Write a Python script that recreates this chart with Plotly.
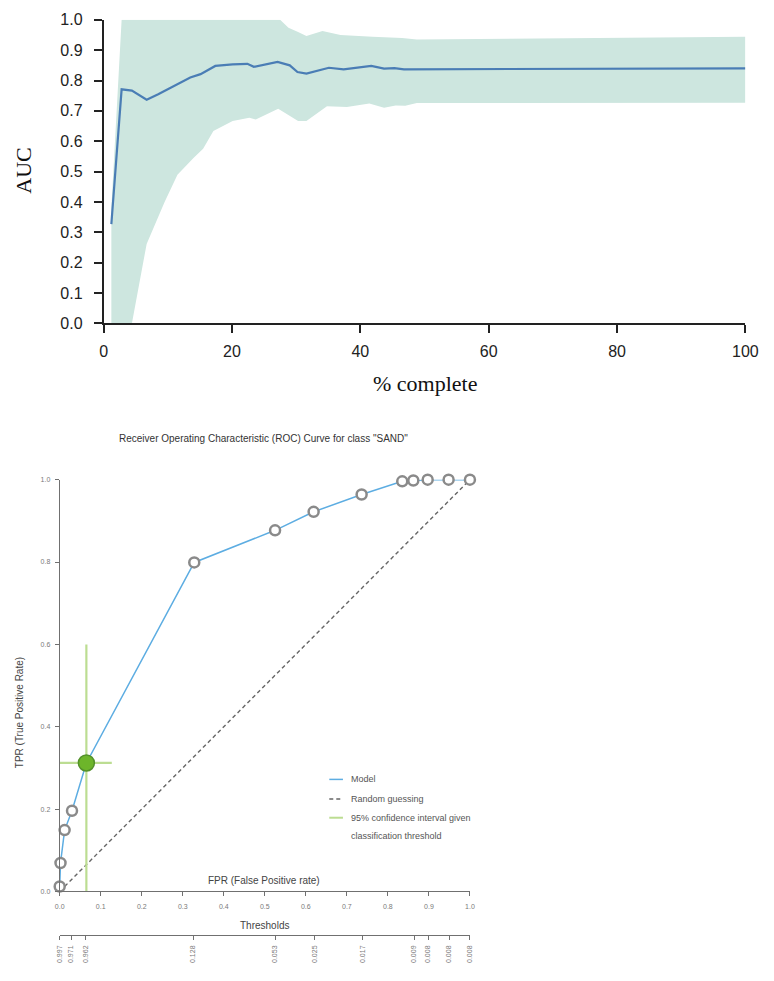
import plotly.graph_objects as go

W, H = 774, 981

# ---------------- Data: AUC learning curve ----------------
auc_x = [1.2, 2.8, 4.4, 6.7, 8.5, 11.5, 13.5, 15.1, 17.4, 20.1, 22.4, 23.4, 25.2, 27.1,
         29.0, 30.2, 31.6, 35.1, 37.4, 41.7, 43.7, 45.3, 46.8, 100.0]
auc_y = [0.327, 0.771, 0.767, 0.737, 0.755, 0.788, 0.810, 0.821, 0.848, 0.853, 0.855, 0.845,
         0.853, 0.861, 0.850, 0.828, 0.823, 0.842, 0.837, 0.848, 0.839, 0.841, 0.837, 0.840]

ci_upper_x = [1.2, 2.8, 27.5, 28.8, 30.3, 31.6, 34.1, 36.9, 41.9, 46.5, 48.8, 100.0]
ci_upper_y = [0.38, 1.0, 1.0, 0.974, 0.960, 0.947, 0.963, 0.950, 0.944, 0.940, 0.935, 0.944]

ci_lower_x = [1.2, 4.4, 6.7, 9.5, 11.5, 14.0, 15.5, 17.1, 20.1, 22.7, 23.7, 27.2, 30.3,
              31.6, 34.8, 37.9, 41.4, 43.7, 45.5, 47.0, 48.8, 100.0]
ci_lower_y = [0.0, 0.0, 0.262, 0.400, 0.490, 0.545, 0.575, 0.634, 0.667, 0.677, 0.672, 0.707,
              0.667, 0.667, 0.715, 0.713, 0.724, 0.710, 0.718, 0.717, 0.726, 0.727]

auc_xticks = [0, 20, 40, 60, 80, 100]

# ---------------- Data: ROC curve ----------------
roc_fpr = [0.0, 0.002, 0.012, 0.030, 0.065, 0.328, 0.525, 0.619, 0.736, 0.835, 0.862, 0.897, 0.948, 1.0]
roc_tpr = [0.012, 0.069, 0.149, 0.196, 0.312, 0.799, 0.877, 0.922, 0.964, 0.996, 0.998, 1.0, 1.0, 1.0]

random_fpr = [0.0, 1.0]
random_tpr = [0.0, 1.0]

sel_fpr = 0.065
sel_tpr = 0.312
ci_fpr_range = [0.0, 0.127]
ci_tpr_range = [0.0, 0.600]

thr_fpr = [0.0, 0.028, 0.063, 0.325, 0.525, 0.621, 0.738, 0.864, 0.898, 0.949, 1.0]
thr_labels = ["0.997", "0.971", "0.962", "0.128", "0.053", "0.025", "0.017",
              "0.009", "0.008", "0.008", "0.008"]

legend_labels = ["Model", "Random guessing", "95% confidence interval given", "classification threshold"]


def px(x):
    return x / W


def py(y):
    return 1 - y / H


fig = go.Figure()

# ---- top chart ----
band_x = ci_upper_x + ci_lower_x[::-1]
band_y = ci_upper_y + ci_lower_y[::-1]
fig.add_trace(go.Scatter(x=band_x, y=band_y, fill="toself", fillcolor="#cde6df",
                         mode="lines", line=dict(width=0), hoverinfo="skip",
                         showlegend=False, xaxis="x", yaxis="y"))
fig.add_trace(go.Scatter(x=auc_x, y=auc_y, mode="lines",
                         line=dict(color="#4a7db5", width=2.2),
                         showlegend=False, xaxis="x", yaxis="y"))

# ---- ROC chart ----
fig.add_trace(go.Scatter(x=random_fpr, y=random_tpr, mode="lines",
                         line=dict(color="#666666", width=1.4, dash="4px,3px"),
                         showlegend=False, xaxis="x2", yaxis="y2"))
fig.add_trace(go.Scatter(x=[sel_fpr, sel_fpr], y=ci_tpr_range, mode="lines",
                         line=dict(color="#bcdd92", width=2.2),
                         showlegend=False, xaxis="x2", yaxis="y2"))
fig.add_trace(go.Scatter(x=ci_fpr_range, y=[sel_tpr, sel_tpr], mode="lines",
                         line=dict(color="#bcdd92", width=2.2),
                         showlegend=False, xaxis="x2", yaxis="y2"))
fig.add_trace(go.Scatter(x=roc_fpr, y=roc_tpr, mode="lines+markers",
                         line=dict(color="#5dade2", width=1.5),
                         marker=dict(symbol="circle", size=10, color="white",
                                     line=dict(color="#8a8a8a", width=2.5)),
                         cliponaxis=False, showlegend=False, xaxis="x2", yaxis="y2"))
fig.add_trace(go.Scatter(x=[sel_fpr], y=[sel_tpr], mode="markers",
                         marker=dict(symbol="circle", size=16, color="#6db52a",
                                     line=dict(color="#53902a", width=1.5)),
                         cliponaxis=False, showlegend=False, xaxis="x2", yaxis="y2"))
# invisible trace carrying the threshold axis
fig.add_trace(go.Scatter(x=thr_fpr, y=[0] * len(thr_fpr), mode="markers",
                         marker=dict(opacity=0), hoverinfo="skip",
                         showlegend=False, xaxis="x3", yaxis="y2"))

top_font = dict(family="Liberation Sans, Arial, sans-serif", size=16, color="#222")
roc_tick_font = dict(family="Liberation Sans, Arial, sans-serif", size=7, color="#7a7a7a")

fig.update_layout(
    width=W, height=H,
    margin=dict(l=0, r=0, t=0, b=0),
    paper_bgcolor="white", plot_bgcolor="rgba(0,0,0,0)",
    xaxis=dict(domain=[px(101), px(758)], range=[0, 100], anchor="y",
               showline=True, linecolor="#222", linewidth=1.8,
               ticks="outside", ticklen=8, tickwidth=1.8, tickcolor="#222",
               tickvals=auc_xticks, tickfont=top_font, ticklabelstandoff=4,
               showgrid=False, zeroline=False),
    yaxis=dict(domain=[py(321), py(12)], range=[0, 1], anchor="x",
               showline=True, linecolor="#222", linewidth=1.8,
               ticks="outside", ticklen=8, tickwidth=1.8, tickcolor="#222",
               dtick=0.1, tick0=0, tickformat=".1f", tickfont=top_font,
               ticklabelstandoff=8,
               showgrid=False, zeroline=False),
    xaxis2=dict(domain=[px(56), px(476)], range=[0, 1], anchor="y2",
                showline=True, linecolor="#707070", linewidth=1,
                ticks="outside", ticklen=4, tickwidth=1, tickcolor="#707070",
                dtick=0.1, tick0=0, tickformat=".1f", tickfont=roc_tick_font,
                ticklabelstandoff=4,
                showgrid=False, zeroline=False),
    yaxis2=dict(domain=[py(899), py(480)], range=[0, 1], anchor="x2",
                showline=True, linecolor="#707070", linewidth=1,
                ticks="outside", ticklen=4, tickwidth=1, tickcolor="#707070",
                dtick=0.2, tick0=0, tickformat=".1f", tickfont=roc_tick_font,
                ticklabelstandoff=3,
                showgrid=False, zeroline=False),
    xaxis3=dict(overlaying="x2", anchor="free", position=py(943), range=[0, 1],
                showline=True, linecolor="#707070", linewidth=1,
                ticks="outside", ticklen=4, tickwidth=1, tickcolor="#707070",
                tickvals=thr_fpr, ticktext=thr_labels, tickangle=-90,
                tickfont=roc_tick_font, ticklabelstandoff=3,
                showgrid=False, zeroline=False),
)

ann = []
serif = dict(family="Liberation Serif, Times New Roman, serif", size=22, color="#111")
ann.append(dict(text="AUC", x=px(19), y=py(166), textangle=-90, font=serif))
ann.append(dict(text="% complete", x=px(430), y=py(382), font=serif))
ann.append(dict(text='Receiver Operating Characteristic (ROC) Curve for class "SAND"',
                x=px(265), y=py(438),
                font=dict(family="Liberation Sans, Arial, sans-serif", size=10, color="#333")))
lab_font = dict(family="Liberation Sans, Arial, sans-serif", size=10, color="#444")
ann.append(dict(text="TPR (True Positive Rate)", x=px(15), y=py(717), textangle=-90, font=lab_font))
ann.append(dict(text="FPR (False Positive rate)", x=px(265), y=py(888), font=lab_font))
ann.append(dict(text="Thresholds", x=px(266), y=py(934), font=lab_font))

leg_font = dict(family="Liberation Sans, Arial, sans-serif", size=9, color="#555")
leg_y = [785, 805, 824, 843]
for lab, yy in zip(legend_labels, leg_y):
    ann.append(dict(text=lab, x=px(352), y=py(yy), xanchor="left", font=leg_font))
for a in ann:
    a.setdefault("xref", "paper")
    a.setdefault("yref", "paper")
    a.setdefault("showarrow", False)
    a.setdefault("xanchor", "center")
    a.setdefault("yanchor", "middle")
fig.update_layout(annotations=ann)

shapes = [
    dict(type="line", xref="paper", yref="paper", x0=px(332), x1=px(346), y0=py(785), y1=py(785),
         line=dict(color="#5dade2", width=1.5)),
    dict(type="line", xref="paper", yref="paper", x0=px(332), x1=px(346), y0=py(805), y1=py(805),
         line=dict(color="#666666", width=1.4, dash="4px,3px")),
    dict(type="line", xref="paper", yref="paper", x0=px(332), x1=px(346), y0=py(824), y1=py(824),
         line=dict(color="#bcdd92", width=2)),
]
fig.update_layout(shapes=shapes)

fig.write_html("out.html")
